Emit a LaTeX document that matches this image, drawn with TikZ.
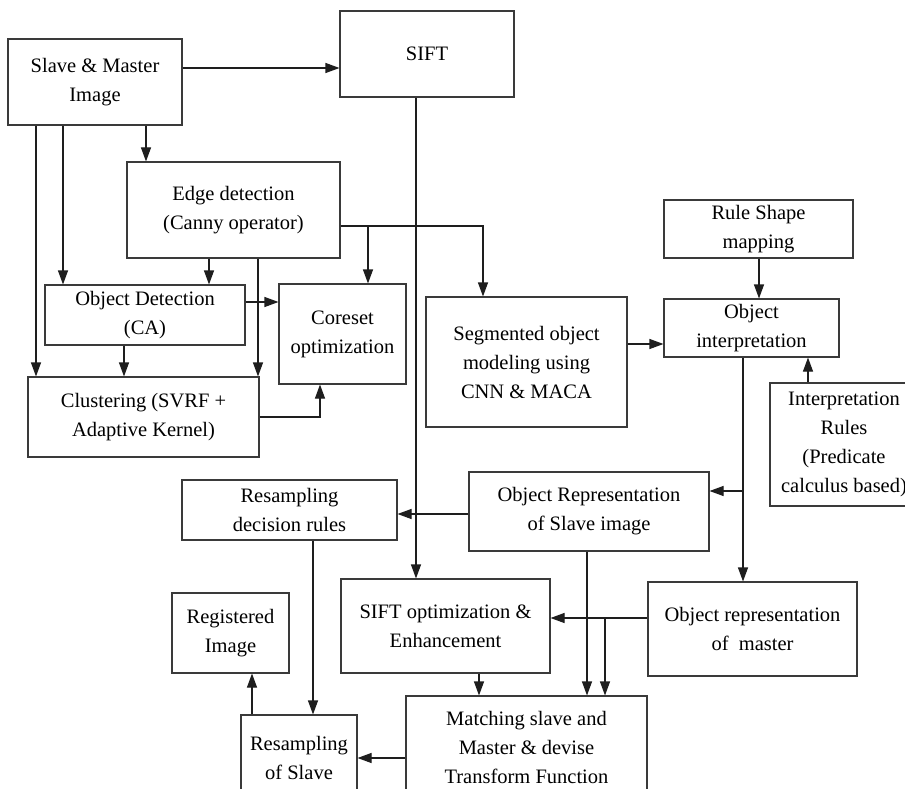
\documentclass[tikz,border=0pt]{standalone}
\usepackage{fontspec}
\setmainfont{Liberation Serif}
\usetikzlibrary{arrows.meta,positioning,calc}
\definecolor{ink}{HTML}{1E1E1E}
\definecolor{frame}{HTML}{3A3A3A}

\begin{document}
\begin{tikzpicture}[x=1pt,y=-1pt,
  box/.style={draw=frame,line width=1.1pt,align=center,inner sep=0pt,
    font=\fontsize{20.5}{29}\selectfont},
  arr/.style={draw=ink,line width=1.1pt,-{Triangle[length=14pt,width=10pt]}}]
  \clip (0,0) rectangle (905,789);
  \fill[white] (0,0) rectangle (905,789);
  % boxes
  \node[box,minimum width=174pt,minimum height=86pt] (slave) at (95,82) {Slave \& Master\\Image};
  \node[box,minimum width=174pt,minimum height=86pt] (sift) at (427,54) {SIFT};
  \node[box,minimum width=213pt,minimum height=96pt] (edge) at (233.5,210) {Edge detection\\(Canny operator)};
  \node[box,minimum width=200pt,minimum height=60pt] (objdet) at (145,315) {Object Detection\\(CA)};
  \node[box,minimum width=127pt,minimum height=100pt] (coreset) at (342.5,334) {Coreset\\optimization};
  \node[box,minimum width=231pt,minimum height=80pt] (clust) at (143.5,417) {Clustering (SVRF +\\Adaptive Kernel)};
  \node[box,minimum width=201pt,minimum height=130pt] (seg) at (526.5,362) {Segmented object\\modeling using\\CNN \& MACA};
  \node[box,minimum width=189pt,minimum height=58pt] (rule) at (758.5,229) {Rule Shape\\mapping};
  \node[box,minimum width=175pt,minimum height=58pt] (interp) at (751.5,328) {Object\\interpretation};
  \node[box,minimum width=148pt,minimum height=123pt] (irules) at (844,444.5) {Interpretation\\Rules\\(Predicate\\calculus based)};
  \node[box,minimum width=240pt,minimum height=79pt] (objslave) at (589,511.5) {Object Representation\\of Slave image};
  \node[box,minimum width=215pt,minimum height=60pt] (resdec) at (289.5,510) {Resampling\\decision rules};
  \node[box,minimum width=209pt,minimum height=94pt] (siftopt) at (445.5,626) {SIFT optimization \&\\Enhancement};
  \node[box,minimum width=209pt,minimum height=94pt] (objmaster) at (752.5,629) {Object representation\\of \ master};
  \node[box,minimum width=117pt,minimum height=80pt] (reg) at (230.5,633) {Registered\\Image};
  \node[box,minimum width=116pt,minimum height=85pt] (resslave) at (299,757.5) {Resampling\\of Slave};
  \node[box,minimum width=241pt,minimum height=102pt] (match) at (526.5,747) {Matching slave and\\Master \& devise\\Transform Function};
  % branch points
  \coordinate (ebr) at (368,226);
  \coordinate (ibr) at (743,491);
  \coordinate (mbr) at (605,618);
  % connectors
  \draw[arr] (slave.east |- 0,68) -- (sift.west |- 0,68);
  \foreach \x/\t in {36/clust,63/objdet,146/edge}
    \draw[arr] (slave.south -| \x,0) -- (\t.north -| \x,0);
  \foreach \x/\t in {209/objdet,258/clust}
    \draw[arr] (edge.south -| \x,0) -- (\t.north -| \x,0);
  \draw[arr] (edge.east |- ebr) -| (seg.north -| 483,0);
  \draw[arr] (ebr) -- (coreset.north -| ebr);
  \draw[arr] (objdet.east |- 0,302) -- (coreset.west |- 0,302);
  \draw[arr] (objdet.south -| 124,0) -- (clust.north -| 124,0);
  \draw[arr] (clust.east |- 0,417) -| (coreset.south -| 320,0);
  \draw[arr] (sift.south -| 416,0) -- (siftopt.north -| 416,0);
  \draw[arr] (seg.east |- 0,344) -- (interp.west |- 0,344);
  \draw[arr] (rule.south -| 759,0) -- (interp.north -| 759,0);
  \draw[arr] (irules.north -| 808,0) -- (interp.south -| 808,0);
  \draw[arr] (interp.south -| ibr) -- (objmaster.north -| ibr);
  \draw[arr] (ibr) -- (objslave.east |- ibr);
  \draw[arr] (objslave.west |- 0,514) -- (resdec.east |- 0,514);
  \draw[arr] (resdec.south -| 313,0) -- (resslave.north -| 313,0);
  \draw[arr] (objmaster.west |- mbr) -- (siftopt.east |- mbr);
  \foreach \x/\s in {587/objslave,479/siftopt}
    \draw[arr] (\s.south -| \x,0) -- (match.north -| \x,0);
  \draw[arr] (mbr) -- (match.north -| mbr);
  \draw[arr] (match.west |- 0,758) -- (resslave.east |- 0,758);
  \draw[arr] (resslave.north -| 252,0) -- (reg.south -| 252,0);
\end{tikzpicture}
\end{document}
